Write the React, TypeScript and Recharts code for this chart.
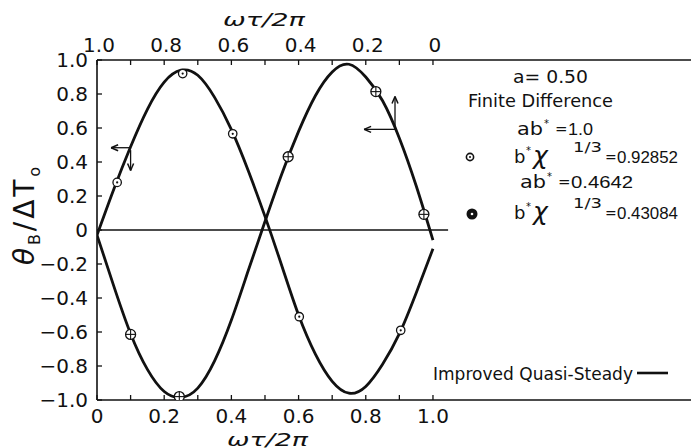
import React from 'react';
import { ComposedChart, Line, Scatter, XAxis, YAxis, ReferenceLine } from 'recharts';

// Improved quasi-steady solution curves
const phase = [0, 0.05, 0.1, 0.15, 0.2, 0.25, 0.3, 0.35, 0.4, 0.45, 0.5, 0.55, 0.6, 0.65, 0.7, 0.75, 0.8, 0.85, 0.9, 0.95, 1.0];
const quasiSteadyA = [-0.03, 0.24, 0.49, 0.71, 0.87, 0.94, 0.91, 0.78, 0.59, 0.35, 0.08, -0.21, -0.5, -0.73, -0.89, -0.96, -0.92, -0.79, -0.61, -0.37, -0.11];
const quasiSteadyB = [-0.03, -0.33, -0.61, -0.82, -0.95, -0.985, -0.93, -0.77, -0.53, -0.24, 0.05, 0.33, 0.58, 0.79, 0.93, 0.975, 0.9, 0.76, 0.54, 0.26, -0.06];

// Finite difference points
const fdDotX = [0.06, 0.255, 0.404, 0.602, 0.904]; // ab* = 1.0
const fdDotY = [0.28, 0.92, 0.566, -0.51, -0.59];
const fdCrossX = [0.1, 0.245, 0.569, 0.83, 0.973]; // ab* = 0.4642
const fdCrossY = [-0.614, -0.98, 0.431, 0.814, 0.092];

// Axes
const xTicks = [0, 0.1, 0.2, 0.3, 0.4, 0.5, 0.6, 0.7, 0.8, 0.9, 1.0];
const yTicks = [-1, -0.8, -0.6, -0.4, -0.2, 0, 0.2, 0.4, 0.6, 0.8, 1];
const X_MAX = 1.768;
const zeroLineEnd = 1.045;

// Arrow annotations [from, to] in data units
const arrowSegments = [
  [[0.098, 0.484], [0.042, 0.484]],
  [[0.1, 0.47], [0.1, 0.35]],
  [[0.887, 0.592], [0.795, 0.592]],
  [[0.887, 0.592], [0.887, 0.785]],
];

const curveRows = phase.map((x, i) => ({ x, a: quasiSteadyA[i], b: quasiSteadyB[i] }));
const dotRows = fdDotX.map((x, i) => ({ x, y: fdDotY[i] }));
const crossRows = fdCrossX.map((x, i) => ({ x, y: fdCrossY[i] }));

const CHART_W = 691;
const CHART_H = 448;
const PLOT_LEFT = 97;
const PLOT_TOP = 60;
const PLOT_BOTTOM_GAP = 48;
const PX_X = (CHART_W - PLOT_LEFT) / X_MAX;
const PX_Y = (CHART_H - PLOT_TOP - PLOT_BOTTOM_GAP) / 2;

// arrow-head strokes derived from each arrow's direction
const headLen = 7;
const headHalf = 3;
const arrowHeads: { x: number; y: number }[][] = [];
arrowSegments.forEach(([from, to]) => {
  const sx = (to[0] - from[0]) * PX_X;
  const sy = -(to[1] - from[1]) * PX_Y;
  const L = Math.hypot(sx, sy);
  const ux = sx / L;
  const uy = sy / L;
  [-1, 1].forEach((side) => {
    const ox = -ux * headLen + -uy * headHalf * side;
    const oy = -uy * headLen + ux * headHalf * side;
    arrowHeads.push([
      { x: to[0], y: to[1] },
      { x: to[0] + ox / PX_X, y: to[1] - oy / PX_Y },
    ]);
  });
});

const INK = '#111';
const FONT = "'DejaVu Sans', 'Liberation Sans', sans-serif";
const NUM_FONT = "'Liberation Sans', 'DejaVu Sans', sans-serif";

const isLabelled = (v: number) => Math.round(v * 10) % 2 === 0;
const fmt = (v: number) => {
  const r = Math.round(v * 10) / 10;
  if (r === 0) return '0';
  return (r < 0 ? '\u2212' : '') + Math.abs(r).toFixed(1);
};

const BottomTick = (props: any) => {
  const { x, y, payload } = props;
  const v = payload.value;
  return (
    <g>
      <line x1={x} y1={y} x2={x} y2={y - 5} stroke={INK} strokeWidth={1.3} />
      {isLabelled(v) && (
        <text x={x} y={y + 23} textAnchor="middle" fontSize={20} fontFamily={FONT} fill={INK}>
          {fmt(v)}
        </text>
      )}
    </g>
  );
};

const TopTick = (props: any) => {
  const { x, y, payload } = props;
  const v = payload.value;
  return (
    <g>
      <line x1={x} y1={y} x2={x} y2={y + 5} stroke={INK} strokeWidth={1.3} />
      {isLabelled(v) && (
        <text x={x + 2} y={y - 8} textAnchor="middle" fontSize={20} fontFamily={FONT} fill={INK}>
          {fmt(1 - v)}
        </text>
      )}
    </g>
  );
};

const LeftTick = (props: any) => {
  const { x, y, payload } = props;
  const v = payload.value;
  return (
    <g>
      <line x1={x} y1={y} x2={x + 5} y2={y} stroke={INK} strokeWidth={1.3} />
      <text x={x - 9} y={y + 7} textAnchor="end" fontSize={20} fontFamily={FONT} fill={INK}>
        {fmt(v)}
      </text>
    </g>
  );
};

const DotMarker = ({ cx, cy }: any) => (
  <g>
    <circle cx={cx} cy={cy} r={4.2} fill="#fff" stroke={INK} strokeWidth={1.3} />
    <circle cx={cx} cy={cy} r={1.1} fill={INK} />
  </g>
);

const CrossMarker = ({ cx, cy }: any) => (
  <g>
    <circle cx={cx} cy={cy} r={5} fill="#fff" stroke={INK} strokeWidth={1.3} />
    <line x1={cx - 5} y1={cy} x2={cx + 5} y2={cy} stroke={INK} strokeWidth={1.1} />
    <line x1={cx} y1={cy - 5} x2={cx} y2={cy + 5} stroke={INK} strokeWidth={1.1} />
  </g>
);

const T = ({ x, y, size = 17, len, italic, anchor, family, children }: any) => (
  <text
    x={x}
    y={y}
    fontSize={size}
    fontFamily={family || FONT}
    fill={INK}
    fontStyle={italic ? 'italic' : 'normal'}
    textAnchor={anchor || 'start'}
    textLength={len}
    lengthAdjust={len ? 'spacingAndGlyphs' : undefined}
  >
    {children}
  </text>
);

const BChiRow = ({ y, value }: { y: number; value: string }) => (
  <g>
    <T x={514} y={y} size={18}>b</T>
    <T x={526} y={y - 9} size={10}>*</T>
    <T x={533} y={y + 1} size={25} italic>χ</T>
    <T x={573} y={y - 11} size={14} len={29}>1/3</T>
    <T x={605} y={y - 1} size={14}>=</T>
    <T x={617} y={y} size={17} len={61} family={NUM_FONT}>{value}</T>
  </g>
);

const AbRow = ({ x, y, value, len }: { x: number; y: number; value: string; len: number }) => (
  <g>
    <T x={x} y={y} size={18} len={26}>ab</T>
    <T x={x + 27} y={y - 8} size={10}>*</T>
    <T x={x + 38} y={y - 1} size={15}>=</T>
    <T x={x + 51} y={y} size={17} len={len} family={NUM_FONT}>{value}</T>
  </g>
);

export default function App() {
  return (
    <div style={{ position: 'absolute', left: 0, top: 0, width: CHART_W, height: CHART_H, background: '#fff' }}>
      <ComposedChart width={CHART_W} height={CHART_H} data={curveRows} margin={{ top: 0, right: 0, bottom: 0, left: 0 }}>
        <XAxis
          xAxisId="bottom"
          dataKey="x"
          type="number"
          orientation="bottom"
          domain={[0, X_MAX]}
          allowDataOverflow
          ticks={xTicks}
          interval={0}
          height={PLOT_BOTTOM_GAP}
          tickSize={0}
          tickMargin={0}
          tickLine={false}
          axisLine={{ stroke: INK, strokeWidth: 1.6 }}
          tick={<BottomTick />}
        />
        <XAxis
          xAxisId="top"
          dataKey="x"
          type="number"
          orientation="top"
          domain={[0, X_MAX]}
          allowDataOverflow
          ticks={xTicks}
          interval={0}
          height={PLOT_TOP}
          tickSize={0}
          tickMargin={0}
          tickLine={false}
          axisLine={{ stroke: INK, strokeWidth: 1.6 }}
          tick={<TopTick />}
        />
        <YAxis
          yAxisId="left"
          type="number"
          domain={[-1, 1]}
          allowDataOverflow
          ticks={yTicks}
          interval={0}
          width={PLOT_LEFT}
          tickSize={0}
          tickMargin={0}
          tickLine={false}
          axisLine={{ stroke: INK, strokeWidth: 1.6 }}
          tick={<LeftTick />}
        />
        <ReferenceLine
          xAxisId="bottom"
          yAxisId="left"
          segment={[{ x: 0, y: 0 }, { x: zeroLineEnd, y: 0 }]}
          stroke={INK}
          strokeWidth={1.3}
          ifOverflow="visible"
        />
        {arrowSegments.map((s, i) => (
          <ReferenceLine
            key={'a' + i}
            xAxisId="bottom"
            yAxisId="left"
            segment={[{ x: s[0][0], y: s[0][1] }, { x: s[1][0], y: s[1][1] }]}
            stroke={INK}
            strokeWidth={1.3}
            ifOverflow="visible"
          />
        ))}
        {arrowHeads.map((seg, i) => (
          <ReferenceLine
            key={'h' + i}
            xAxisId="bottom"
            yAxisId="left"
            segment={seg}
            stroke={INK}
            strokeWidth={1.5}
            ifOverflow="visible"
          />
        ))}
        <Line xAxisId="bottom" yAxisId="left" type="natural" dataKey="a" stroke={INK} strokeWidth={2.8} dot={false} activeDot={false} isAnimationActive={false} />
        <Line xAxisId="bottom" yAxisId="left" type="natural" dataKey="b" stroke={INK} strokeWidth={2.8} dot={false} activeDot={false} isAnimationActive={false} />
        <Scatter xAxisId="bottom" yAxisId="left" data={dotRows} dataKey="y" shape={(p: any) => <DotMarker cx={p.cx} cy={p.cy} />} isAnimationActive={false} />
        <Scatter xAxisId="bottom" yAxisId="left" data={crossRows} dataKey="y" shape={(p: any) => <CrossMarker cx={p.cx} cy={p.cy} />} isAnimationActive={false} />
      </ComposedChart>
      <svg width={CHART_W} height={CHART_H} style={{ position: 'absolute', left: 0, top: 0, pointerEvents: 'none' }}>
        {/* axis titles */}
        <T x={223} y={26} size={18} italic len={82}>ωτ/2π</T>
        <T x={227} y={446} size={18} italic len={81}>ωτ/2π</T>
        <text transform="translate(34,216) rotate(-90)" textAnchor="middle" fontSize={28} fontFamily={FONT} fill={INK} textLength={98}>
          <tspan fontStyle="italic">θ</tspan>
          <tspan fontSize={16} dy={6}>B</tspan>
          <tspan dy={-6}>/ΔT</tspan>
          <tspan fontSize={16} dy={6}>o</tspan>
        </text>
        {/* legend block */}
        <T x={513} y={83} size={17} len={75}>a= 0.50</T>
        <T x={468} y={107} size={17} len={145}>Finite Difference</T>
        <AbRow x={517} y={135} value="1.0" len={25} />
        <circle cx={470} cy={157} r={3.6} fill="#fff" stroke={INK} strokeWidth={1.6} />
        <circle cx={470} cy={157} r={1} fill={INK} />
        <BChiRow y={163} value="0.92852" />
        <AbRow x={520} y={188} value="0.4642" len={62} />
        <circle cx={472} cy={214} r={5.5} fill={INK} />
        <circle cx={472} cy={214} r={1.3} fill="#fff" />
        <BChiRow y={219} value="0.43084" />
        <T x={433} y={380} size={17} len={200}>Improved Quasi-Steady</T>
        <line x1={637} y1={373} x2={668} y2={373} stroke={INK} strokeWidth={2.6} />
      </svg>
    </div>
  );
}
